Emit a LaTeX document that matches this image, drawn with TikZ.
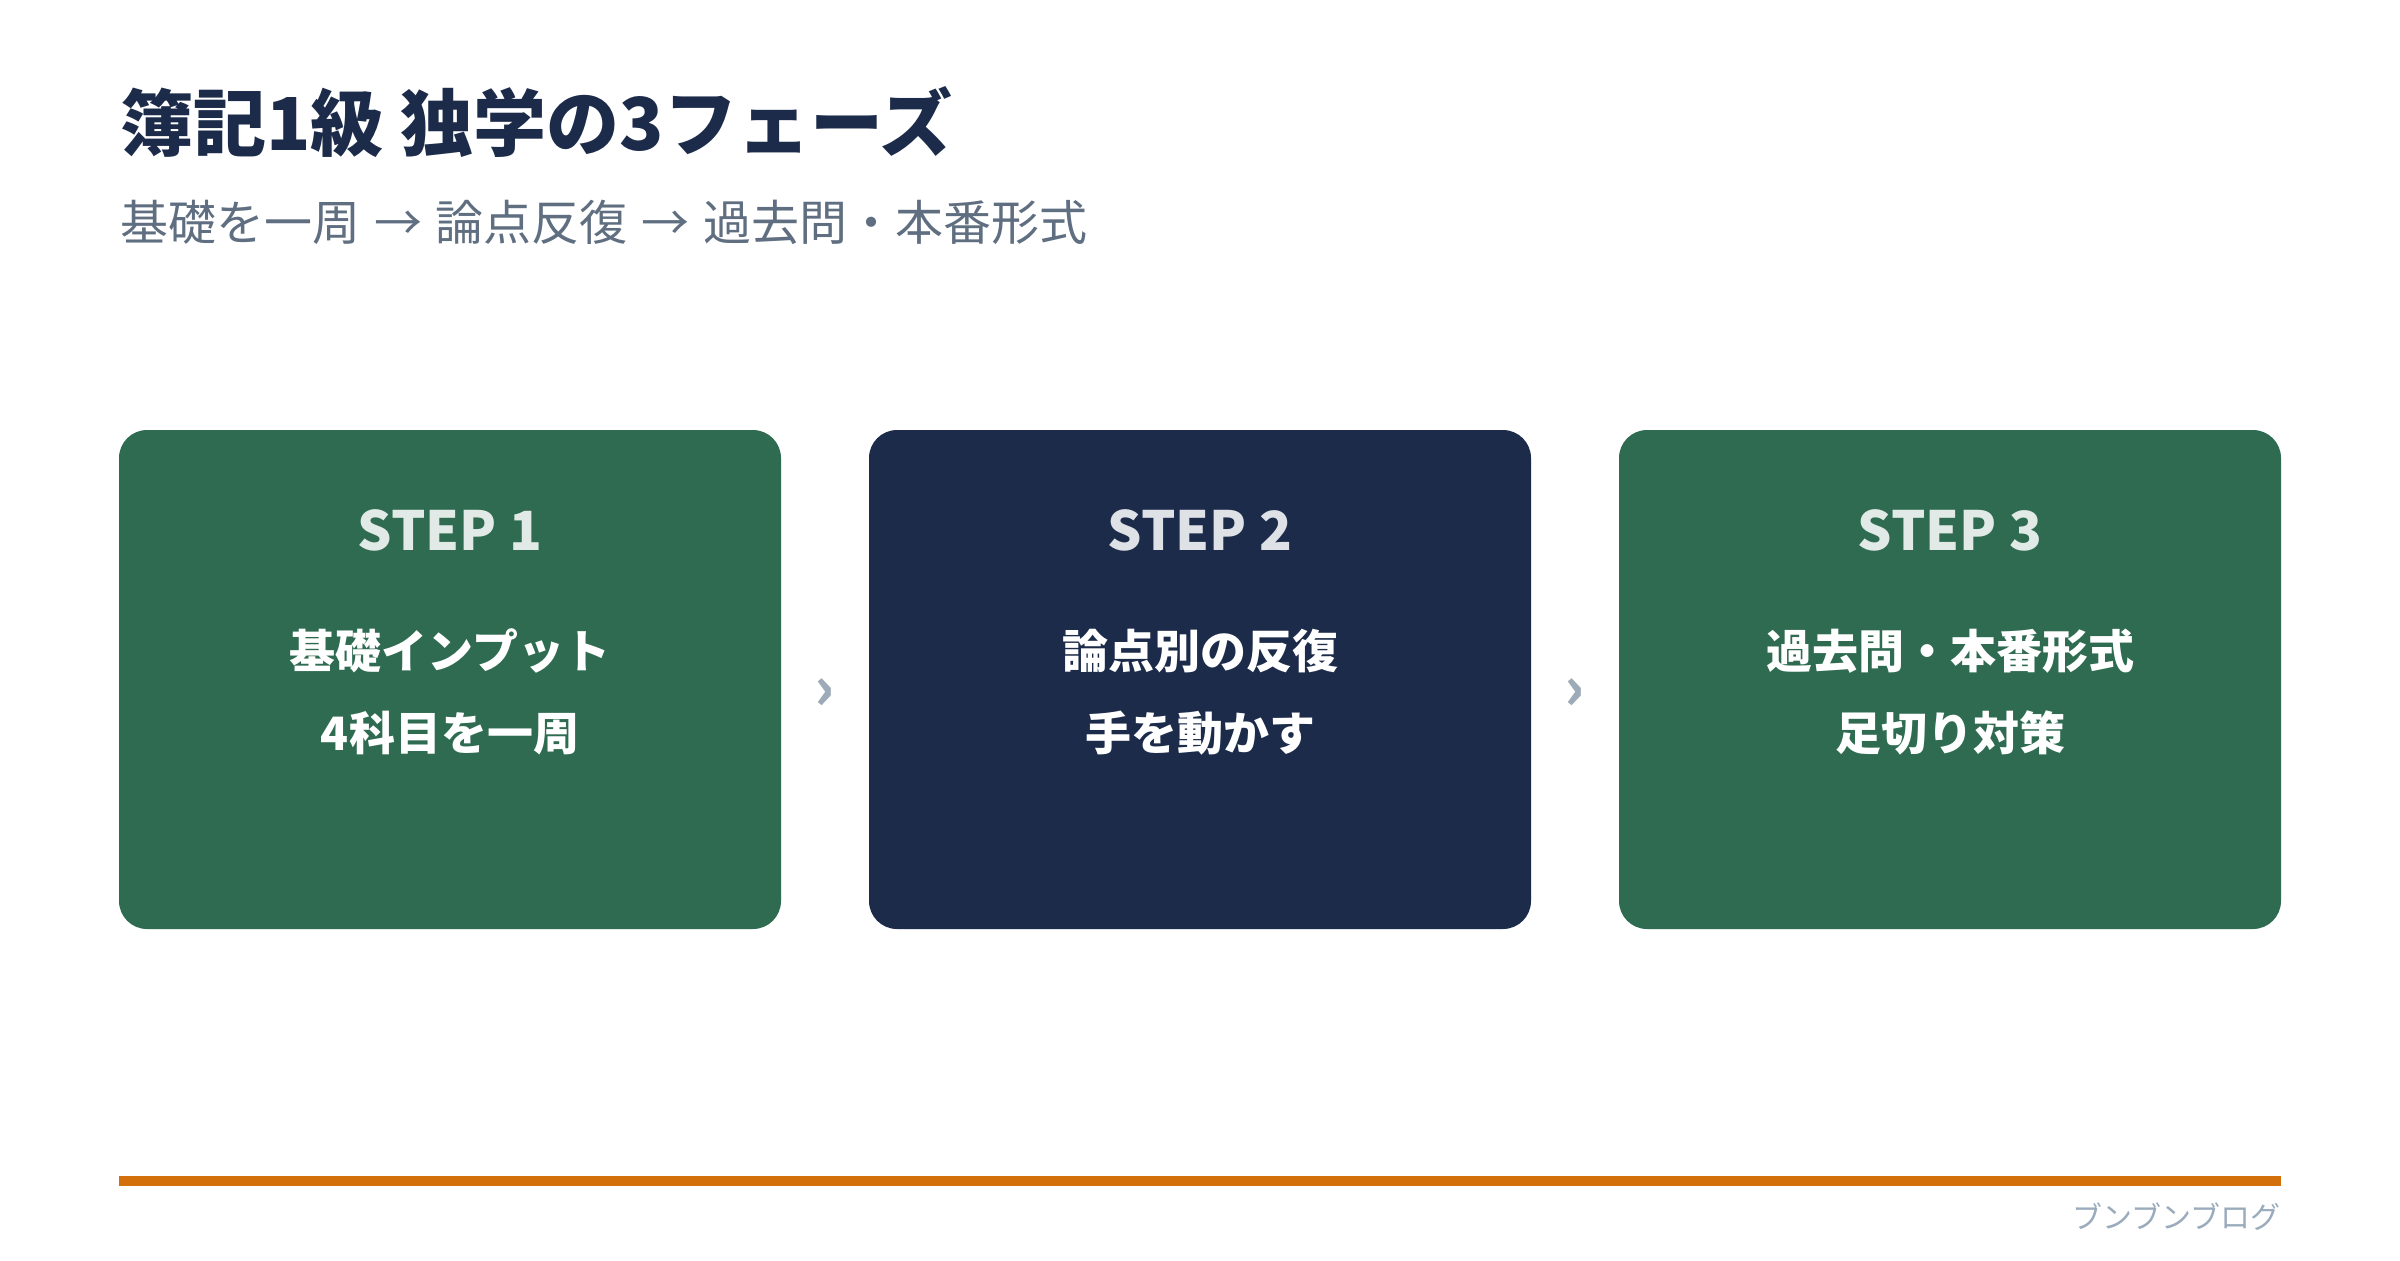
\documentclass[tikz,border=0pt]{standalone}
\usepackage{fontspec}
\setmainfont{Noto Sans CJK JP}
\definecolor{navy}{HTML}{1C2B4A}
\definecolor{grn}{HTML}{2E6B51}
\definecolor{subgray}{HTML}{5F6E80}
\definecolor{chev}{HTML}{9DAAB8}
\definecolor{foot}{HTML}{9AABBC}
\definecolor{orng}{HTML}{D4700C}
\begin{document}
\begin{tikzpicture}[x=0.5pt,y=-0.5pt,
  card/.style={rounded corners=14pt, minimum width=331pt, minimum height=249.5pt, inner sep=0pt, draw=none},
  steplabel/.style={inner sep=0pt, anchor=base, text=white, text opacity=0.86, font=\fontsize{27}{32}\selectfont\bfseries},
  bodyline/.style={inner sep=0pt, anchor=base, text=white, font=\fontsize{23}{28}\selectfont\bfseries},
  chevron/.style={inner sep=0pt, text=chev, font=\fontsize{30}{34}\selectfont\bfseries}
]
\fill[white] (0,0) rectangle (2400,1260);
\useasboundingbox (0,0) rectangle (2400,1260);
% title and subtitle
\node[inner sep=0pt, anchor=base west, text=navy, font=\fontsize{36.5}{44}\selectfont\bfseries] (title) at (120,150) {簿記1級 独学の3フェーズ};
\node[inner sep=0pt, anchor=base west, text=subgray, font=\fontsize{24}{28}\selectfont] (subtitle) at (120,240) {基礎を一周\kern1.5pt\ → \kern1.5pt論点反復\kern1.5pt\ → \kern1.5pt過去問・本番形式};
% cards
\node[card, fill=grn] (s1) at (450,679.5) {};
\node[card, fill=navy] (s2) at (1200,679.5) {};
\node[card, fill=grn] (s3) at (1950,679.5) {};
\node[steplabel] (s1h) at (450,550) {STEP 1};
\node[steplabel] (s2h) at (1200,550) {STEP 2};
\node[steplabel] (s3h) at (1950,550) {STEP 3};
\node[bodyline] (s1a) at (450,668) {基礎インプット};
\node[bodyline] (s1b) at (450,750) {4科目を一周};
\node[bodyline] (s2a) at (1200,668) {論点別の反復};
\node[bodyline] (s2b) at (1200,750) {手を動かす};
\node[bodyline] (s3a) at (1950,668) {過去問・本番形式};
\node[bodyline] (s3b) at (1950,750) {足切り対策};
% chevrons
\node[chevron] (c1) at (825,694) {›};
\node[chevron] (c2) at (1575,694) {›};
% footer
\coordinate (la) at (119,1181);
\coordinate (lb) at (2281,1181);
\draw[orng, line width=5pt] (la) -- (lb);
\node[inner sep=0pt, anchor=base east, text=foot, font=\fontsize{15}{19}\selectfont] (footer) at (2281,1228) {ブンブンブログ};
\end{tikzpicture}
\end{document}
